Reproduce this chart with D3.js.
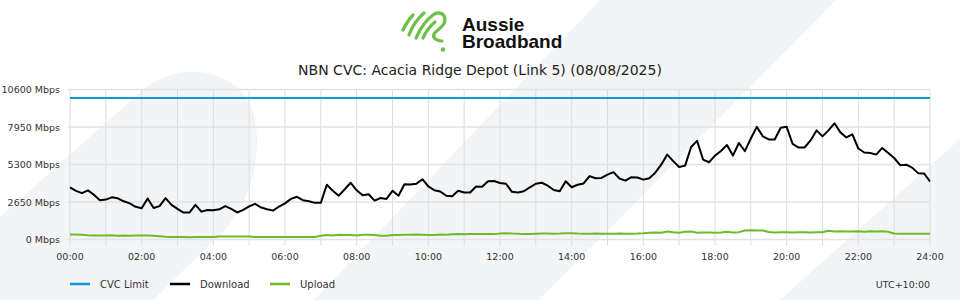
<!DOCTYPE html>
<html>
<head>
<meta charset="utf-8">
<script src="https://cdn.jsdelivr.net/npm/d3@7"></script>
<style>
  body { margin: 0; background: #fff; }
  svg text { font-family: "DejaVu Sans", sans-serif; fill: #333; }
</style>
</head>
<body>
<div id="chart"></div>
<script>
const title = "NBN CVC: Acacia Ridge Depot (Link 5) (08/08/2025)";
const yTicks = [0, 2650, 5300, 7950, 10600];
const xTickHours = [0, 2, 4, 6, 8, 10, 12, 14, 16, 18, 20, 22, 24];
const stepMinutes = 10;
const cvcLimit = 10000;

// download, Mbps, every 10 minutes from 00:00 to 24:00
const download = [
  3680, 3440, 3280, 3470, 3160, 2770, 2820, 2980, 2910, 2700, 2550, 2310,
  2210, 2900, 2230, 2360, 2920, 2450, 2160, 1900, 1900, 2450, 1970, 2080,
  2060, 2130, 2360, 2160, 1910, 2090, 2340, 2520, 2260, 2140, 2040, 2330,
  2550, 2870, 3020, 2780, 2700, 2590, 2590, 3870, 3440, 3090, 3550, 4010,
  3480, 3120, 3200, 2750, 2930, 2870, 3440, 3090, 3910, 3890, 3940, 4260,
  3750, 3480, 3390, 3090, 3050, 3440, 3320, 3320, 3750, 3730, 4120, 4130,
  3990, 3940, 3370, 3320, 3410, 3690, 3940, 4010, 3800, 3500, 3410, 4120,
  3690, 3870, 3960, 4480, 4330, 4350, 4580, 4760, 4310, 4160, 4400, 4380,
  4230, 4330, 4720, 5290, 6000, 5540, 5120, 5220, 6540, 6970, 5650, 5460,
  5930, 6250, 6680, 5930, 6820, 6240, 7140, 7960, 7290, 7070, 7070, 7900,
  7960, 6750, 6500, 6500, 7000, 7710, 7290, 7710, 8210, 7570, 7210, 7430,
  6430, 6150, 6110, 6000, 6470, 6110, 5760, 5250, 5290, 5080, 4690, 4670,
  4100
];

// upload, Mbps, same times
const upload = [
  350, 345, 330, 295, 290, 285, 280, 295, 270, 285, 265, 275,
  285, 280, 260, 230, 190, 175, 170, 170, 165, 170, 170, 170,
  175, 210, 215, 210, 215, 210, 210, 175, 170, 170, 170, 170,
  170, 170, 170, 170, 170, 175, 270, 310, 280, 330, 310, 320,
  290, 340, 330, 310, 260, 270, 320, 310, 340, 330, 360, 340,
  310, 320, 350, 340, 370, 380, 370, 380, 380, 390, 390, 380,
  420, 440, 420, 410, 380, 390, 410, 420, 430, 410, 420, 440,
  450, 420, 410, 400, 420, 410, 410, 400, 420, 410, 410, 420,
  440, 470, 490, 480, 560, 510, 480, 540, 560, 480, 490, 500,
  470, 500, 540, 500, 520, 640, 650, 640, 630, 530, 500, 520,
  510, 500, 520, 510, 500, 510, 510, 620, 560, 580, 570, 560,
  580, 550, 590, 560, 580, 540, 420, 410, 400, 410, 400, 400,
  400
];

const width = 960;
const height = 300;
const colors = { cvc: "#0e9ad7", download: "#000", upload: "#6cbb2a" };

const svg = d3.select("#chart")
  .append("svg")
  .attr("width", width)
  .attr("height", height);

// background stripes =========
const bg = svg.append("g").attr("fill", "#f3f4f6");
bg.append("path").attr("d", "M0,217 L145,88 C185,58 245,70 255,120 C262,160 250,200 225,230 L153,300 L0,300 Z");
bg.append("path").attr("d", "M314,300 L600,0 L836,0 L539,300 Z");
bg.append("path").attr("d", "M780,300 L960,139 L960,300 Z");

// logo =========
const logo = svg.append("g");
const icon = logo.append("g")
  .attr("fill", "none")
  .attr("stroke", "#6cc04a")
  .attr("stroke-width", 3.2)
  .attr("stroke-linecap", "round")
  .attr("stroke-linejoin", "round");
icon.append("path").attr("d", "M403,30 C406,24 409,19 413,15");
icon.append("path").attr("d", "M409,35 C412,27 417,19 424,13");
icon.append("path").attr("d", "M416,38 C420,29 426,20 433,15 C438,11 445,13 445,20 C445,27 437,29 434,34 C432,38 437,41 442,41");
icon.append("path").attr("d", "M423,38 C426,31 430,26 435,22");
logo.append("circle").attr("cx", 443).attr("cy", 49.5).attr("r", 2.3).attr("fill", "#6cc04a");
const brand = logo.append("text")
  .style("font-family", "'Liberation Sans', Arial, sans-serif")
  .style("font-weight", "bold").style("font-size", "19px").style("fill", "#111");
brand.append("tspan").attr("x", 462).attr("y", 31).text("Aussie");
brand.append("tspan").attr("x", 462).attr("y", 48).text("Broadband");

svg.append("text")
  .attr("x", width / 2).attr("y", 75)
  .attr("text-anchor", "middle")
  .style("font-size", "14px")
  .style("fill", "#222")
  .text(title);

// scales =========
const x = d3.scaleLinear().domain([0, 1440]).range([70, 930]);
const y = d3.scaleLinear().domain([0, 10600]).range([239.5, 89.5]);

const grid = svg.append("g");
grid.selectAll("line.v")
  .data(d3.range(0, 25))
  .join("line")
  .attr("class", "v")
  .attr("x1", (h) => x(h * 60)).attr("x2", (h) => x(h * 60))
  .attr("y1", y(10600)).attr("y2", y(0) + 6)
  .attr("stroke", "#dcdcdc").attr("stroke-width", 1);
grid.selectAll("line.h")
  .data(yTicks)
  .join("line")
  .attr("class", "h")
  .attr("x1", x(0) - 2).attr("x2", x(1440))
  .attr("y1", (d) => y(d)).attr("y2", (d) => y(d))
  .attr("stroke", "#e2e2e2").attr("stroke-width", 1.6);

svg.append("g")
  .selectAll("text")
  .data(yTicks)
  .join("text")
  .attr("x", 60).attr("y", (d) => y(d) + 3.5)
  .attr("text-anchor", "end")
  .style("font-size", "9.5px")
  .text((d) => `${d} Mbps`);

svg.append("g")
  .selectAll("text")
  .data(xTickHours)
  .join("text")
  .attr("x", (h) => x(h * 60)).attr("y", 260)
  .attr("text-anchor", "middle")
  .style("font-size", "9.5px")
  .text((h) => `${String(h).padStart(2, "0")}:00`);

// series =========
const line = d3.line()
  .x((d, i) => x(i * stepMinutes))
  .y((d) => y(d))
  .curve(d3.curveLinear);

svg.append("path")
  .attr("d", d3.line()([[x(0), y(cvcLimit)], [x(1440), y(cvcLimit)]]))
  .attr("stroke", colors.cvc).attr("stroke-width", 2).attr("fill", "none");

svg.append("path")
  .datum(upload)
  .attr("d", line)
  .attr("stroke", colors.upload).attr("stroke-width", 2)
  .attr("stroke-linejoin", "round").attr("fill", "none");

svg.append("path")
  .datum(download)
  .attr("d", line)
  .attr("stroke", colors.download).attr("stroke-width", 2)
  .attr("stroke-linejoin", "round").attr("fill", "none");

// legend =========
const legendItems = [
  { label: "CVC Limit", color: colors.cvc, x: 70 },
  { label: "Download", color: colors.download, x: 170 },
  { label: "Upload", color: colors.upload, x: 270 },
];
const legend = svg.append("g")
  .selectAll("g")
  .data(legendItems)
  .join("g")
  .attr("transform", (d) => `translate(${d.x},284)`);
legend.append("line")
  .attr("x1", 0).attr("x2", 20)
  .attr("stroke", (d) => d.color).attr("stroke-width", 2.5);
legend.append("text")
  .attr("x", 30).attr("y", 3.5)
  .style("font-size", "10px")
  .text((d) => d.label);

svg.append("text")
  .attr("x", 930).attr("y", 287.5)
  .attr("text-anchor", "end")
  .style("font-size", "9.5px")
  .text("UTC+10:00");
</script>
</body>
</html>
